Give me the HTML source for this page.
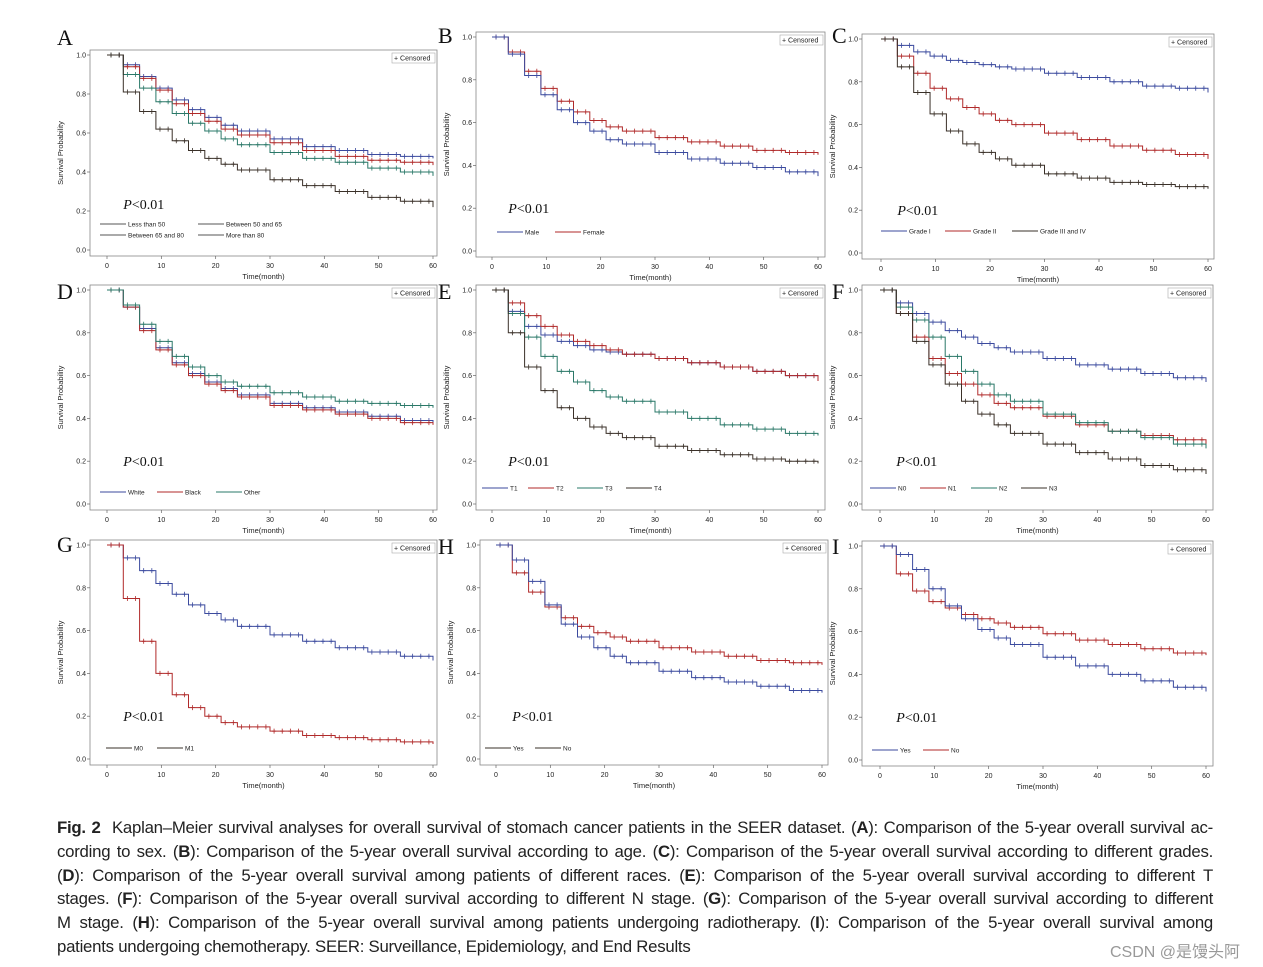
<!DOCTYPE html>
<html><head><meta charset="utf-8"><style>
html,body{margin:0;padding:0;background:#fff;}
#cap{position:absolute;left:57px;top:816px;width:1156px;font-family:"Liberation Sans",sans-serif;font-size:16.8px;line-height:23.8px;color:#222;letter-spacing:-0.25px}
#cap div{white-space:nowrap;text-align:justify;text-align-last:justify}
#cap div.last{text-align-last:left}
#wm{position:absolute;left:1110px;top:938px;font-family:"Liberation Sans","Noto Sans CJK SC",sans-serif;font-size:16px;color:#999}
</style></head><body>
<svg id="fig" width="1263" height="967" style="position:absolute;left:0;top:0" xmlns="http://www.w3.org/2000/svg"></svg>
<div id="cap">
<div><b>Fig. 2</b>&nbsp; Kaplan–Meier survival analyses for overall survival of stomach cancer patients in the SEER dataset. (<b>A</b>): Comparison of the 5-year overall survival ac-</div>
<div>cording to sex. (<b>B</b>): Comparison of the 5-year overall survival according to age. (<b>C</b>): Comparison of the 5-year overall survival according to different grades.</div>
<div>(<b>D</b>): Comparison of the 5-year overall survival among patients of different races. (<b>E</b>): Comparison of the 5-year overall survival according to different T</div>
<div>stages. (<b>F</b>): Comparison of the 5-year overall survival according to different N stage. (<b>G</b>): Comparison of the 5-year overall survival according to different</div>
<div>M stage. (<b>H</b>): Comparison of the 5-year overall survival among patients undergoing radiotherapy. (<b>I</b>): Comparison of the 5-year overall survival among</div>
<div class="last">patients undergoing chemotherapy. SEER: Surveillance, Epidemiology, and End Results</div>
</div>
<div id="wm">CSDN @是馒头阿</div>
<script>
const times=[0,3,6,9,12,15,18,21,24,30,36,42,48,54,60];
const xTicks=[0,10,20,30,40,50,60];
const yTicks=[0.0,0.2,0.4,0.6,0.8,1.0];
const A_lt50=[1,.95,.89,.83,.77,.72,.68,.64,.61,.57,.53,.51,.49,.48,.47];
const A_50_65=[1,.94,.88,.82,.75,.70,.66,.62,.59,.55,.51,.48,.46,.45,.435];
const A_65_80=[1,.90,.83,.76,.70,.65,.61,.57,.54,.50,.47,.45,.42,.40,.38];
const A_gt80=[1,.81,.71,.62,.56,.51,.47,.44,.41,.36,.33,.30,.27,.25,.22];
const B_male=[1,.92,.82,.73,.66,.60,.56,.52,.50,.46,.43,.41,.39,.37,.35];
const B_female=[1,.93,.84,.76,.70,.65,.61,.58,.56,.53,.51,.49,.47,.46,.45];
const C_g1=[1,.97,.94,.92,.90,.89,.88,.87,.86,.84,.82,.80,.78,.77,.75];
const C_g2=[1,.92,.84,.77,.72,.68,.65,.62,.60,.56,.53,.50,.48,.46,.44];
const C_g34=[1,.87,.75,.65,.57,.51,.47,.44,.41,.37,.35,.33,.32,.31,.30];
const D_white=[1,.92,.82,.73,.66,.61,.57,.54,.51,.47,.45,.43,.41,.39,.38];
const D_black=[1,.92,.81,.72,.65,.60,.56,.53,.50,.46,.44,.42,.40,.38,.37];
const D_other=[1,.93,.84,.76,.69,.64,.60,.57,.55,.52,.50,.48,.47,.46,.45];
const E_t1=[1,.90,.83,.79,.76,.74,.72,.71,.70,.68,.66,.64,.62,.60,.58];
const E_t2=[1,.94,.88,.83,.79,.76,.74,.72,.70,.68,.66,.64,.62,.60,.575];
const E_t3=[1,.89,.78,.69,.62,.57,.53,.50,.48,.43,.40,.37,.35,.33,.32];
const E_t4=[1,.80,.64,.53,.45,.40,.36,.33,.31,.27,.25,.23,.21,.20,.19];
const F_n0=[1,.94,.89,.85,.81,.78,.75,.73,.71,.68,.65,.63,.61,.59,.57];
const F_n1=[1,.89,.78,.68,.61,.56,.51,.47,.45,.41,.37,.34,.32,.30,.28];
const F_n2=[1,.92,.86,.78,.69,.62,.56,.51,.48,.42,.38,.34,.31,.28,.26];
const F_n3=[1,.89,.76,.65,.56,.48,.42,.37,.33,.28,.24,.21,.18,.16,.14];
const G_m0=[1,.94,.88,.82,.77,.72,.68,.65,.62,.58,.55,.52,.50,.48,.46];
const G_m1=[1,.75,.55,.40,.30,.24,.20,.17,.15,.13,.11,.10,.09,.08,.07];
const H_yes=[1,.93,.83,.72,.63,.57,.52,.48,.45,.41,.38,.36,.34,.32,.31];
const H_no=[1,.87,.78,.71,.66,.62,.59,.57,.55,.52,.50,.48,.46,.45,.44];
const I_yes=[1,.96,.89,.80,.72,.66,.61,.57,.54,.48,.44,.40,.37,.34,.32];
const I_no=[1,.87,.79,.74,.71,.68,.66,.64,.62,.59,.56,.54,.52,.50,.49];

const BL='#3b4a9e',RD='#b02a2a',GR='#2a7868',DK='#3a3028';
const panels=[
 {id:'A',lx:57,ly:45,x0:107,x1:433,y1:55,y0:250,bl:90,br:437,bt:50,series:[[A_lt50,BL],[A_50_65,RD],[A_65_80,GR],[A_gt80,DK]],leg:[['Less than 50',100,224],['Between 50 and 65',198,224],['Between 65 and 80',100,235],['More than 80',198,235]]},
 {id:'B',lx:438,ly:43,x0:492,x1:818,y1:37,y0:251,bl:476,br:825,bt:32,series:[[B_female,RD],[B_male,BL]],leg:[['Male',497,232,BL],['Female',555,232,RD]]},
 {id:'C',lx:832,ly:43,x0:881,x1:1208,y1:39,y0:253,bl:862,br:1214,bt:34,series:[[C_g1,BL],[C_g2,RD],[C_g34,DK]],leg:[['Grade I',881,231,BL],['Grade II',945,231,RD],['Grade III and IV',1012,231,DK]]},
 {id:'D',lx:57,ly:299,x0:107,x1:433,y1:290,y0:504,bl:90,br:437,bt:285,series:[[D_white,BL],[D_black,RD],[D_other,GR]],leg:[['White',100,492,BL],['Black',157,492,RD],['Other',216,492,GR]]},
 {id:'E',lx:438,ly:299,x0:492,x1:818,y1:290,y0:504,bl:476,br:825,bt:285,series:[[E_t1,BL],[E_t2,RD],[E_t3,GR],[E_t4,DK]],leg:[['T1',482,488,BL],['T2',528,488,RD],['T3',577,488,GR],['T4',626,488,DK]]},
 {id:'F',lx:832,ly:299,x0:880,x1:1206,y1:290,y0:504,bl:862,br:1213,bt:285,series:[[F_n0,BL],[F_n1,RD],[F_n2,GR],[F_n3,DK]],leg:[['N0',870,488,BL],['N1',920,488,RD],['N2',971,488,GR],['N3',1021,488,DK]]},
 {id:'G',lx:57,ly:552,x0:107,x1:433,y1:545,y0:759,bl:90,br:437,bt:540,series:[[G_m0,BL],[G_m1,RD]],leg:[['M0',106,748,DK],['M1',157,748,DK]]},
 {id:'H',lx:438,ly:554,x0:496,x1:822,y1:545,y0:759,bl:480,br:828,bt:540,series:[[H_no,RD],[H_yes,BL]],leg:[['Yes',485,748,DK],['No',535,748,DK]]},
 {id:'I',lx:832,ly:554,x0:880,x1:1206,y1:546,y0:760,bl:862,br:1213,bt:541,series:[[I_no,RD],[I_yes,BL]],leg:[['Yes',872,750,BL],['No',923,750,RD]]}
];
const NS='http://www.w3.org/2000/svg';
const svg=document.getElementById('fig');
function mk(tag,at,parent){const e=document.createElementNS(NS,tag);for(const k in at)e.setAttribute(k,at[k]);(parent||svg).appendChild(e);return e;}
panels.forEach(p=>{
 const g=mk('g',{});
 
 
 const X=t=>p.x0+(p.x1-p.x0)*t/60, Y=v=>p.y0-(p.y0-p.y1)*v;
 const lt=mk('text',{x:p.lx,y:p.ly,'font-family':'Liberation Serif,serif','font-size':22,fill:'#111'},g);lt.textContent=p.id;
 
 const bb=p.y0+6;
 const fr=mk('rect',{x:p.bl,y:p.bt,width:p.br-p.bl,height:bb-p.bt,fill:'none',stroke:'#888','stroke-width':0.8},g);
 
 xTicks.forEach(t=>{mk('line',{x1:X(t),x2:X(t),y1:bb,y2:bb+3,stroke:'#666','stroke-width':0.7},g);
  const e=mk('text',{x:X(t),y:bb+12,'font-family':'Liberation Sans,sans-serif','font-size':7,'text-anchor':'middle',fill:'#222'},g);e.textContent=t;
  });
 yTicks.forEach(v=>{mk('line',{x1:p.bl-3,x2:p.bl,y1:Y(v),y2:Y(v),stroke:'#666','stroke-width':0.7},g);
  const e=mk('text',{x:p.bl-4,y:Y(v)+2.5,'font-family':'Liberation Sans,sans-serif','font-size':7,'text-anchor':'end',fill:'#222'},g);e.textContent=v.toFixed(1);
  });
 const xt=mk('text',{x:(p.bl+p.br)/2,y:bb+23,'font-family':'Liberation Sans,sans-serif','font-size':7.5,'text-anchor':'middle',fill:'#222'},g);xt.textContent='Time(month)';
 
 const cy=(p.bt+bb)/2, cx=p.bl-27;
 const yt=mk('text',{x:cx,y:cy,transform:`rotate(-90 ${cx} ${cy})`,'font-family':'Liberation Sans,sans-serif','font-size':7.5,'text-anchor':'middle',fill:'#222'},g);yt.textContent='Survival Probability';
 
 const cb=mk('rect',{x:p.br-45,y:p.bt+3,width:43,height:10,fill:'#fff',stroke:'#aaa','stroke-width':0.6},g);
 
 const ct=mk('text',{x:p.br-43,y:p.bt+10.5,'font-family':'Liberation Sans,sans-serif','font-size':7,fill:'#222'},g);ct.textContent='+ Censored';
 p.series.forEach(([d,c])=>{
  let path=`M${X(times[0])},${Y(d[0])}`;
  for(let i=1;i<times.length;i++){path+=`H${X(times[i])}V${Y(d[i])}`;}
  const pl=mk('path',{d:path,fill:'none',stroke:c,'stroke-width':1},g);
  
  for(let i=1;i<times.length;i++){
   const n=times[i]-times[i-1]>=6?4:2;
   for(let k=0;k<n;k++){const tx=X(times[i-1]+(times[i]-times[i-1])*(k+0.5)/n),ty=Y(d[i-1]);
    mk('path',{d:`M${tx-2},${ty}H${tx+2}M${tx},${ty-2.5}V${ty+2.5}`,stroke:c,'stroke-width':0.8},g);}
  }
 });
 const pv=mk('text',{x:X(3),y:Y(0.2)+(p.id==='A'?-2:5),'font-family':'Liberation Serif,serif','font-size':14,fill:'#111'},g);
 pv.innerHTML='<tspan font-style="italic">P</tspan>&lt;0.01';
 
 p.leg.forEach(l=>{const c=l[3]||'#555';
  mk('line',{x1:l[1],x2:l[1]+26,y1:l[2],y2:l[2],stroke:c,'stroke-width':0.9},g);
  const e=mk('text',{x:l[1]+28,y:l[2]+2.5,'font-family':'Liberation Sans,sans-serif','font-size':6.5,fill:'#222'},g);e.textContent=l[0];
  });
});
</script>
</body></html>
